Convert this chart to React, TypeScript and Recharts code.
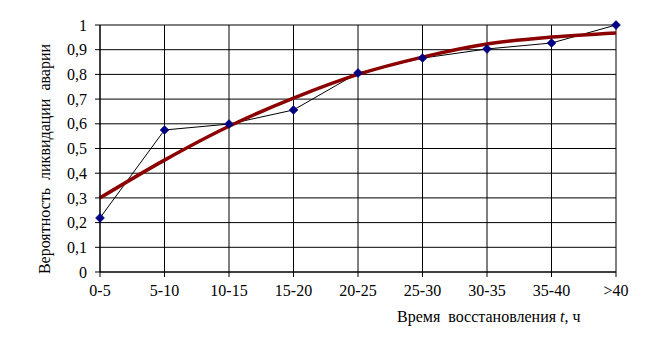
import { LineChart, Line, XAxis, YAxis, CartesianGrid } from "recharts";

const periods = ["0-5", "5-10", "10-15", "15-20", "20-25", "25-30", "30-35", "35-40", ">40"];
const observed = [0.219, 0.575, 0.599, 0.656, 0.806, 0.866, 0.903, 0.927, 1.0];
const trend = [0.3, 0.453, 0.59, 0.704, 0.8, 0.87, 0.923, 0.951, 0.968];
const yTicks = [0, 0.1, 0.2, 0.3, 0.4, 0.5, 0.6, 0.7, 0.8, 0.9, 1];

const data = periods.map((p, i) => ({ period: p, observed: observed[i], trend: trend[i] }));

const font = '"Times New Roman", "Liberation Serif", serif';

const fmt = (v: number) => (v === 0 ? "0" : v === 1 ? "1" : v.toFixed(1).replace(".", ","));

const Diamond = (props: any) => {
  const { cx, cy, index } = props;
  const r = 4.5;
  return (
    <path
      key={"d" + index}
      d={`M${cx},${cy - r} L${cx + r},${cy} L${cx},${cy + r} L${cx - r},${cy} Z`}
      fill="#000080"
      stroke="#000080"
      strokeWidth={0.5}
    />
  );
};

const tickStyle = { fill: "#000", fontSize: 16, fontFamily: font };

export default function App() {
  return (
    <div style={{ position: "absolute", left: 0, top: 0, width: 672, height: 346, background: "#fff", fontFamily: font }}>
      <LineChart
        width={672}
        height={346}
        data={data}
        margin={{ top: 25, right: 56, left: 0, bottom: 0 }}
        style={{ fontFamily: font }}
      >
        <CartesianGrid stroke="#000" strokeWidth={1} />
        <XAxis
          dataKey="period"
          height={74}
          interval={0}
          tickSize={5}
          tickMargin={8}
          axisLine={{ stroke: "#000" }}
          tickLine={{ stroke: "#000" }}
          tick={tickStyle}
        />
        <YAxis
          width={100}
          domain={[0, 1]}
          ticks={yTicks}
          tickFormatter={fmt}
          tickSize={5}
          tickMargin={8}
          axisLine={{ stroke: "#000" }}
          tickLine={{ stroke: "#000" }}
          tick={tickStyle}
        />
        <Line
          dataKey="observed"
          type="linear"
          stroke="#000"
          strokeWidth={1}
          dot={Diamond}
          activeDot={false}
          isAnimationActive={false}
        />
        <Line
          dataKey="trend"
          type="monotone"
          stroke="#8b0000"
          strokeWidth={3.5}
          dot={false}
          activeDot={false}
          isAnimationActive={false}
        />
      </LineChart>
      <div
        style={{
          position: "absolute",
          left: 45,
          top: 159,
          transform: "translate(-50%, -50%) rotate(-90deg)",
          whiteSpace: "pre",
          fontSize: 16,
          color: "#000",
        }}
      >
        {"Вероятность  ликвидации  аварии"}
      </div>
      <div
        style={{
          position: "absolute",
          left: 397,
          top: 308,
          whiteSpace: "pre",
          fontSize: 16,
          color: "#000",
        }}
      >
        {"Время  восстановления "}
        <i>t</i>
        {", ч"}
      </div>
    </div>
  );
}
